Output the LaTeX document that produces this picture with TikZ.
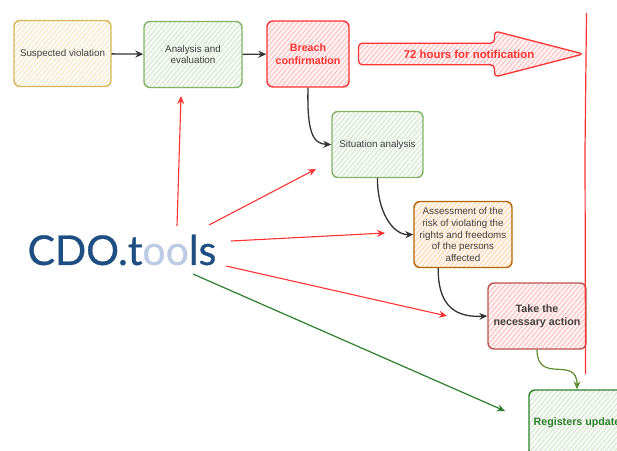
\documentclass[tikz,border=0pt]{standalone}
\usepackage{fontspec}
\setmainfont{Liberation Sans}
\newfontfamily\logofont[FakeBold=0.7]{Lato}
\usetikzlibrary{positioning, calc, arrows.meta, shapes, shapes.arrows, patterns.meta}
\definecolor{logoblue}{HTML}{1F4E82}
\definecolor{logopale}{HTML}{BCCAE3}
\definecolor{alarmred}{HTML}{FF3333}
\definecolor{sandyellow}{HTML}{D6B656}
\definecolor{leafgreen}{HTML}{82B366}
\definecolor{burntorange}{HTML}{B46504}
\definecolor{dullrose}{HTML}{B85450}
\definecolor{deepgreen}{HTML}{2D7F2D}
\definecolor{olivegreen}{HTML}{5E8A2F}
\tikzset{box/.style={draw, rounded corners=6pt, line width=1.4pt, minimum width=96pt, minimum height=66pt,
    align=center, font=\fontsize{9.8}{11.7}\selectfont, text=black!75, inner sep=2pt}}
\tikzset{hatch/.style={preaction={fill=#1!6}, pattern={Lines[angle=50,distance=3.6pt,line width=1pt]}, pattern color=#1!30}}
\tikzset{boldtext/.style={font=\fontsize{10.7}{13}\selectfont\bfseries}}
\tikzset{yellowbox/.style={box, draw=sandyellow, hatch=sandyellow}}
\tikzset{greenbox/.style={box, draw=leafgreen, hatch=leafgreen}}
\tikzset{redbox/.style={box, draw=alarmred, hatch=alarmred, text=alarmred, boldtext}}
\tikzset{orangebox/.style={box, draw=burntorange, hatch=orange}}
\tikzset{rosebox/.style={box, draw=dullrose, hatch=alarmred, boldtext}}
\tikzset{flow/.style={-{Stealth[length=8pt,width=7pt]}, line width=1.3pt, black!80}}
\tikzset{redflow/.style={-{Stealth[length=8pt,width=7pt]}, line width=1.1pt, alarmred}}
\tikzset{greenflow/.style={-{Stealth[length=8pt,width=7pt]}, line width=1.2pt, #1}}
\begin{document}
\begin{tikzpicture}[x=1pt, y=-1pt]
      \useasboundingbox (0,0) rectangle (617,450);
      \clip (0,0) rectangle (617,450);

      \node[yellowbox, minimum width=97pt] (suspected) at (62.5,53.5) {Suspected violation};
      \node[greenbox, minimum width=98pt] (analysis) at (193,54.5) {Analysis and\\evaluation};
      \node[redbox, minimum width=82pt] (breach) at (308,54) {Breach\\confirmation};
      \node[greenbox, minimum width=91pt] (situation) at (377.5,144.5) {Situation analysis};
      \node[orangebox, minimum width=98pt] (assessment) at (463,234.5) {Assessment of the\\risk of violating the\\rights and freedoms\\of the persons\\affected};
      \node[rosebox, minimum width=98pt] (action) at (537,316) {Take the\\necessary action};
      \node[greenbox, draw=deepgreen, text=deepgreen, minimum width=96pt, boldtext] (registers) at (577,423) {Registers update};

      \node[single arrow, draw=alarmred, line width=1.3pt, rounded corners=4pt, hatch=alarmred, minimum width=46pt,
        minimum height=225pt, single arrow head extend=11.5pt, shape border rotate=0, single arrow tip angle=29,
        inner xsep=0pt, inner ysep=9.5pt, anchor=tip] (deadline) at (586,54) {};
      \node[text=alarmred, font=\fontsize{11.4}{13}\selectfont\bfseries] (deadlinetext) at (469,54) {72 hours for notification};

      \node[font=\fontsize{41}{41}\selectfont\logofont, text=logoblue, inner sep=0pt] (logo) at (122,250)
      {CDO.t\textcolor{logopale}{oo}ls};

      \coordinate (limittop) at (586.5,13);
      \coordinate (limitmid) at (585,150);
      \coordinate (limitend) at (585.5,374);
      \draw[alarmred, line width=1.2pt] (limittop) -- (limitmid) -- (limitend);

      \draw[flow] (suspected) -- (analysis);
      \draw[flow] (analysis) -- (breach);
      \draw[flow] (breach.south) .. controls (307,130) and (312,144) .. (situation.west);
      \draw[flow] (situation.south) .. controls (377,210) and (392,235) .. (assessment.west);
      \coordinate (assessout) at ($(assessment.south west)!.25!(assessment.south east)$);
      \draw[flow] (assessout) .. controls (438,300) and (450,318) .. (action.west);
      \draw[greenflow=olivegreen] (action.south) .. controls (537,385) and (577,355) .. (registers.north);

      \coordinate (a0) at (177,226);
      \coordinate (a1) at (181,96);
      \coordinate (b0) at (209,225);
      \coordinate (b1) at (316,169);
      \coordinate (c0) at (231,241);
      \coordinate (c1) at (385,233);
      \coordinate (d0) at (226,266);
      \coordinate (d1) at (447,316);
      \coordinate (e0) at (193,274);
      \coordinate (e1) at (505,411);
      \draw[redflow] (a0) -- (a1);
      \draw[redflow] (b0) -- (b1);
      \draw[redflow] (c0) -- (c1);
      \draw[redflow] (d0) -- (d1);
      \draw[greenflow=deepgreen] (e0) -- (e1);
\end{tikzpicture}
\end{document}
